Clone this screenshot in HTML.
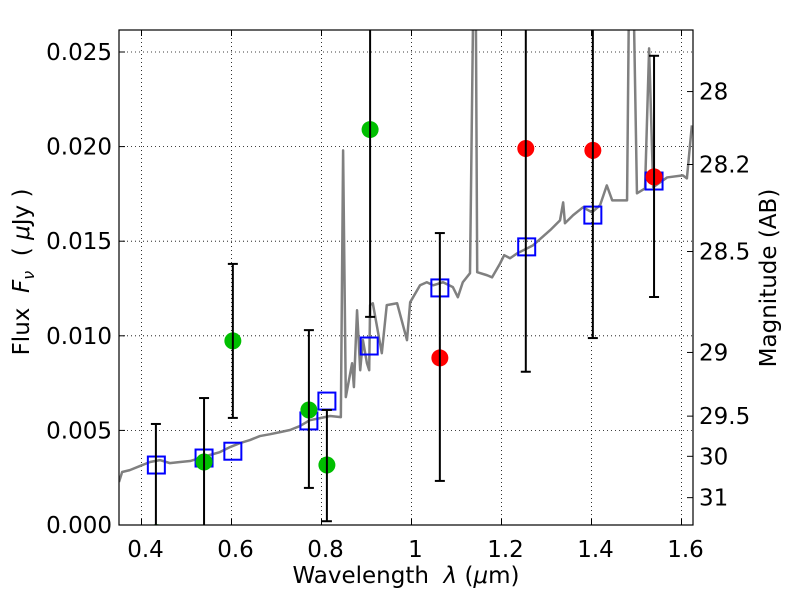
<!DOCTYPE html>
<html><head><meta charset="utf-8"><style>
body{margin:0;background:#fff;}
svg{display:block;font-family:"DejaVu Sans","Liberation Sans",sans-serif;}
text{white-space:pre;}
</style></head><body>
<svg id="chart" width="800" height="600" viewBox="0 0 800 600">
<defs><clipPath id="clip"><rect x="119" y="30" width="574" height="495"/></clipPath></defs>
<rect width="800" height="600" fill="#fff"/>
<g id="grid"></g>
<g id="plot" clip-path="url(#clip)"></g>
<rect x="119" y="30" width="574" height="495" fill="none" stroke="#000" stroke-width="1.2"/>
<g id="axes"></g>
<text x="406" y="583" font-size="23" text-anchor="middle">Wavelength  <tspan font-style="italic">λ</tspan> (<tspan font-style="italic">μ</tspan>m)</text>
<text transform="translate(29,272) rotate(-90)" font-size="23" text-anchor="middle">Flux  <tspan font-style="italic">F</tspan><tspan font-style="italic" font-size="16" dy="5">ν</tspan><tspan dy="-5">  ( </tspan><tspan font-style="italic">μ</tspan>Jy )</text>
<text transform="translate(776,278) rotate(-90)" font-size="23" text-anchor="middle">Magnitude (AB)</text>
</svg>
<script>
const specLam=[0.350,0.357,0.374,0.397,0.419,0.441,0.463,0.486,0.508,0.530,0.552,0.574,0.597,0.619,0.641,0.663,0.686,0.708,0.730,0.752,0.774,0.797,0.819,0.843,0.848,0.854,0.868,0.872,0.879,0.886,0.892,0.901,0.906,0.908,0.914,0.934,0.945,0.968,0.990,0.997,1.019,1.034,1.048,1.070,1.092,1.103,1.114,1.130,1.137,1.143,1.146,1.168,1.179,1.197,1.206,1.219,1.235,1.270,1.308,1.330,1.337,1.341,1.359,1.381,1.401,1.419,1.434,1.446,1.479,1.483,1.494,1.501,1.519,1.528,1.537,1.568,1.603,1.612,1.623];
const specFlux=[0.00227,0.00280,0.00290,0.00312,0.00333,0.00343,0.00327,0.00333,0.00338,0.00354,0.00370,0.00385,0.00412,0.00433,0.00449,0.00470,0.00480,0.00491,0.00502,0.00523,0.00554,0.00565,0.00576,0.00570,0.01980,0.00676,0.00855,0.00729,0.01135,0.00818,0.00977,0.00855,0.00818,0.01162,0.01172,0.00908,0.01162,0.01172,0.00977,0.01177,0.01267,0.01283,0.01267,0.01283,0.01257,0.01204,0.01283,0.01331,0.0272,0.0272,0.01336,0.01320,0.01309,0.01383,0.01426,0.01410,0.01436,0.01478,0.01558,0.01610,0.01705,0.01595,0.01637,0.01679,0.01653,0.01690,0.01795,0.01716,0.01716,0.0272,0.0272,0.01753,0.01779,0.02519,0.01785,0.01837,0.01848,0.01832,0.02112];
const sqLam=[0.433,0.539,0.603,0.772,0.812,0.906,1.063,1.256,1.403,1.539];
const sqFlux=[0.00317,0.00354,0.0039,0.0055,0.00655,0.00946,0.01253,0.0147,0.01638,0.01818];
const greenLam=[0.433,0.539,0.603,0.772,0.812,0.908];
const greenFlux=[-0.0004,0.00333,0.00973,0.00608,0.00317,0.0209];
const redLam=[1.063,1.254,1.403,1.539];
const redFlux=[0.00883,0.0199,0.0198,0.0184];
const errLam=[0.432,0.539,0.603,0.772,0.812,0.908,1.063,1.254,1.403,1.539];
const errLo=[-0.002,-0.002,0.00566,0.00196,0.0002,0.011,0.00233,0.0081,0.00988,0.01205];
const errHi=[0.00534,0.00671,0.0138,0.0103,0.00608,0.03,0.01543,0.03,0.03,0.0248];
const errCapLo=[false,false,true,true,true,true,true,true,true,true];
const errCapHi=[true,true,true,true,true,false,true,false,false,true];
const xTicks=[0.4,0.6,0.8,1.0,1.2,1.4,1.6];
const xTickLabels=["0.4","0.6","0.8","1","1.2","1.4","1.6"];
const yTicks=[0,0.005,0.010,0.015,0.020,0.025];
const yTickLabels=["0.000","0.005","0.010","0.015","0.020","0.025"];
const magTicks=[28,28.2,28.5,29,29.5,30,31];
const magTickLabels=["28","28.2","28.5","29","29.5","30","31"];

const NS="http://www.w3.org/2000/svg";
const X=l=>141.5+(l-0.4)*450;
const Y=f=>525-f*18920;
function mk(tag,attrs,parent){const e=document.createElementNS(NS,tag);for(const k in attrs)e.setAttribute(k,attrs[k]);parent.appendChild(e);return e;}
const grid=document.getElementById('grid'),plot=document.getElementById('plot'),axes=document.getElementById('axes');

xTicks.forEach((t,i)=>{
  const x=X(t);
  const g=mk('line',{x1:x,x2:x,y1:30,y2:525,stroke:'#000','stroke-width':0.8,'stroke-dasharray':'1,3'},grid);
  
  
  mk('line',{x1:x,x2:x,y1:525,y2:519,stroke:'#000'},axes);
  mk('line',{x1:x,x2:x,y1:30,y2:36,stroke:'#000'},axes);
  const tx=mk('text',{x:x+4,y:557,'font-size':23,'text-anchor':'middle'},axes);
  tx.textContent=xTickLabels[i];
  
  
});
yTicks.forEach((t,i)=>{
  const y=Y(t);
  const g=mk('line',{x1:119,x2:693,y1:y,y2:y,stroke:'#000','stroke-width':0.8,'stroke-dasharray':'1,3'},grid);
  
  
  mk('line',{x1:119,x2:125,y1:y,y2:y,stroke:'#000'},axes);
  const tx=mk('text',{x:112,y:y+8,'font-size':23,'text-anchor':'end'},axes);
  tx.textContent=yTickLabels[i];
  
  
});
magTicks.forEach((m,i)=>{
  const y=Y(Math.pow(10,-0.4*(m-23.9)));
  mk('line',{x1:687,x2:693,y1:y,y2:y,stroke:'#000'},axes);
  const tx=mk('text',{x:699,y:y+8,'font-size':23,'text-anchor':'start'},axes);
  tx.textContent=magTickLabels[i];
  
  
});

const spec=mk('polyline',{points:specLam.map((l,i)=>X(l)+','+Y(specFlux[i])).join(' '),fill:'none',stroke:'#808080','stroke-width':2.5,'stroke-linejoin':'round'},plot);



sqLam.forEach((l,i)=>{
  const r=mk('rect',{x:X(l)-8.5,y:Y(sqFlux[i])-8.5,width:17,height:17,fill:'none',stroke:'#0000ff','stroke-width':2},plot);
  
  
});
greenLam.forEach((l,i)=>{
  const c=mk('circle',{cx:X(l),cy:Y(greenFlux[i]),r:8.5,fill:'#00bf00'},plot);
  
  
});
redLam.forEach((l,i)=>{
  const c=mk('circle',{cx:X(l),cy:Y(redFlux[i]),r:8.5,fill:'#ff0000'},plot);
  
  
});
errLam.forEach((l,i)=>{
  const x=X(l);
  const g=mk('g',{},plot);
  
  
  mk('line',{x1:x,x2:x,y1:Y(errLo[i]),y2:Y(errHi[i]),stroke:'#000','stroke-width':2},g);
  if(errCapLo[i])mk('line',{x1:x-5,x2:x+5,y1:Y(errLo[i]),y2:Y(errLo[i]),stroke:'#000','stroke-width':2},g);
  if(errCapHi[i])mk('line',{x1:x-5,x2:x+5,y1:Y(errHi[i]),y2:Y(errHi[i]),stroke:'#000','stroke-width':2},g);
});
</script>
</body></html>
